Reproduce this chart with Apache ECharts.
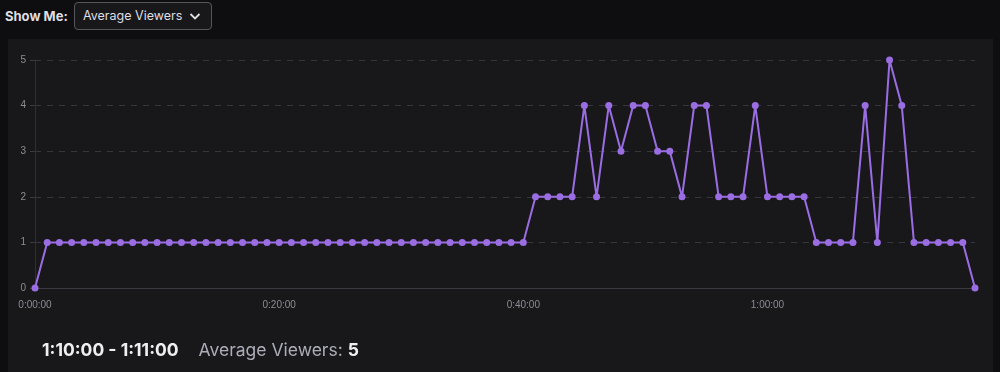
<!DOCTYPE html>
<html>
<head>
<meta charset="utf-8">
<script src="https://cdn.jsdelivr.net/npm/echarts@6/dist/echarts.min.js"></script>
<style>
  html, body { margin:0; padding:0; width:1000px; height:372px; background:#0e0e10; overflow:hidden; font-family: Inter, Roboto, "Noto Sans", sans-serif; }
  #panel { position:absolute; left:8px; top:39px; width:985px; height:340px; background:#18181b; }
  #chart { position:absolute; left:0; top:0; width:1000px; height:372px; }
  #showme { position:absolute; left:5px; top:8px; color:#dedee3; font-weight:700; font-size:13px; }
  #dd { position:absolute; left:74px; top:2px; width:138px; height:28px; box-sizing:border-box; border:1px solid #55555d; border-radius:4px; background:#18181b; color:#dedee3; font-size:12.5px; line-height:26px; padding-left:8px; }
  #dd svg { position:absolute; right:10px; top:9px; }
  #summary { position:absolute; left:42px; top:339px; font-size:17.5px; color:#efeff1; white-space:nowrap; }
  #summary .range { font-weight:700; }
  #summary .lbl { color:#adadb8; margin-left:20px; }
  #summary .val { font-weight:700; }
</style>
</head>
<body>
<div id="panel"></div>
<div id="showme">Show Me:</div>
<div id="dd">Average Viewers<svg width="12" height="9" viewBox="0 0 12 9"><path d="M1.5 2 L6 6.5 L10.5 2" stroke="#dedee3" stroke-width="1.8" fill="none"/></svg></div>
<div id="chart"></div>
<div id="summary"><span class="range">1:10:00 - 1:11:00</span><span class="lbl">Average Viewers: </span><span class="val">5</span></div>
<script>
// Average viewers per minute, minutes 0..77
const viewers = [
  0, 1, 1, 1, 1, 1, 1, 1, 1, 1,
  1, 1, 1, 1, 1, 1, 1, 1, 1, 1,
  1, 1, 1, 1, 1, 1, 1, 1, 1, 1,
  1, 1, 1, 1, 1, 1, 1, 1, 1, 1,
  1, 2, 2, 2, 2, 4, 2, 4, 3, 4,
  4, 3, 3, 2, 4, 4, 2, 2, 2, 4,
  2, 2, 2, 2, 1, 1, 1, 1, 4, 1,
  5, 4, 1, 1, 1, 1, 1, 0
];
const xTickLabels = ["0:00:00", "0:20:00", "0:40:00", "1:00:00"];
const xTickMinutes = [0, 20, 40, 60];
const yTicks = [0, 1, 2, 3, 4, 5];

const data = viewers.map((v, i) => [i, v]);
const chart = echarts.init(document.getElementById('chart'), null, { renderer: 'canvas' });
chart.setOption({
  backgroundColor: 'transparent',
  animation: false,
  grid: { left: 35, right: 25, top: 60, bottom: 84 },
  xAxis: {
    type: 'value',
    min: 0,
    max: viewers.length - 1,
    interval: 20,
    axisLine: { show: true, lineStyle: { color: '#3a3a40', width: 1 } },
    axisTick: { show: false },
    splitLine: { show: false },
    axisLabel: {
      color: '#8c8c95', fontSize: 10, margin: 12,
      showMaxLabel: false,
      formatter: v => { const k = xTickMinutes.indexOf(v); return k >= 0 ? xTickLabels[k] : ''; }
    }
  },
  yAxis: {
    type: 'value',
    min: yTicks[0],
    max: yTicks[yTicks.length - 1],
    interval: 1,
    axisLine: { show: true, lineStyle: { color: '#2e2e33', width: 1 } },
    axisTick: { show: true, length: 5, lineStyle: { color: '#3a3a40' } },
    splitLine: { show: true, lineStyle: { color: '#35353b', type: [6, 6], width: 1 } },
    axisLabel: { color: '#8c8c95', fontSize: 10, margin: 9 }
  },
  series: [{
    type: 'line',
    data: data,
    symbol: 'circle',
    symbolSize: 7,
    showAllSymbol: true,
    clip: false,
    lineStyle: { color: '#9b6de3', width: 2 },
    itemStyle: { color: '#9b6de3' }
  }]
});
</script>
</body>
</html>
